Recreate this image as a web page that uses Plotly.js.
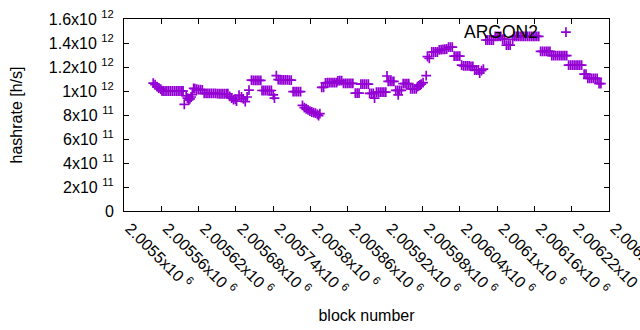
<!DOCTYPE html>
<html>
<head>
<meta charset="utf-8">
<script src="https://cdn.plot.ly/plotly-3.0.1.min.js"></script>
<style>html,body{margin:0;padding:0;background:#fff;}#chart{width:640px;height:330px;}</style>
</head>
<body>
<div id="chart"></div>
<script>
// block numbers (x) and hashrate values in h/s (y)
var blocks = [
2005547,2005550,2005553,2005556,2005559,2005561,2005563,2005566,2005569,2005572,2005575,2005578,2005581,2005584,2005587,2005590,2005593,2005595,
2005597,2005600,2005602,2005604,2005606,2005608,2005610,
2005612,2005614,2005617,2005620,2005623,2005626,
2005629,2005632,2005635,2005638,2005641,2005644,2005647,2005650,2005653,2005656,2005659,2005662,2005665,2005667,
2005670,2005673,2005676,2005679,2005681,2005685,2005689,2005692,2005695,2005698,2005701,
2005705,2005708,2005711,2005714,2005717,2005720,
2005722,2005725,2005728,2005731,2005734,2005737,
2005740,2005742,2005745,
2005748,2005751,2005754,2005757,2005760,2005763,2005766,2005769,
2005772,2005775,2005778,2005781,2005784,
2005787,2005790,2005793,2005796,2005799,2005802,2005805,2005808,2005811,2005813,2005815,
2005818,2005821,
2005824,2005827,2005830,2005833,2005836,2005839,2005842,
2005844,2005847,2005850,
2005853,2005856,2005859,2005862,2005865,2005868,
2005872,2005875,2005878,
2005881,2005884,2005887,2005890,2005893,
2005895,2005898,2005901,2005903,
2005906,2005909,2005912,2005915,2005918,2005921,
2005923,
2005925,2005928,2005931,2005934,
2005937,2005940,2005941,2005943,2005946,
2005949,2005952,2005955,2005958,
2005961,2005964,2005967,2005970,
2005972,2005974,2005976,2005978,2005981,
2005986,2005988,2005991,
2005995,2005998,2006001,2006004,
2006007,2006010,2006013,2006016,2006019,
2006022,2006025,2006028,
2006031,2006034,2006037,2006040,
2006043,2006046,2006049,2006052,2006055,2006058,2006061,
2006064,2006067,2006070,2006072,2006075,2006078,
2006082,2006085,2006088,2006091,2006094,
2006097,2006100,2006103,2006106,
2006109,2006112,
2006115,2006118,2006121,
2006125,
2006128,2006131,2006134,2006137,2006140,2006143,2006146,2006149,2006152,2006155,2006158,2006161,2006164,2006167,
2006170,2006173,2006176,2006179,2006182,2006185,
2006188,2006191,2006194,2006197,2006200,2006203,2006206,2006209,2006212,
2006215,2006218,2006221,2006224,2006227,2006230,2006233,2006236,
2006240,2006243,
2006246,2006249,2006252,2006255,2006258,2006261,
2006264,2006267
];
var hashrate = [
1.066e12,1.052e12,1.036e12,1.025e12,1.015e12,1.002e12,1.0e12,1.0e12,1.0e12,1.0e12,1.0e12,1.0e12,1.0e12,1.0e12,1.0e12,1.0e12,1.0e12,1.0e12,
0.889e12,0.96e12,0.94e12,0.925e12,0.935e12,0.95e12,0.97e12,
1.022e12,1.02e12,1.015e12,1.012e12,1.012e12,1.01e12,
0.98e12,0.98e12,0.98e12,0.98e12,0.98e12,0.98e12,0.98e12,0.978e12,0.977e12,0.977e12,0.977e12,0.977e12,0.977e12,0.977e12,
0.955e12,0.94e12,0.928e12,0.93e12,0.915e12,0.965e12,0.95e12,0.935e12,0.912e12,0.95e12,1.008e12,
1.09e12,1.088e12,1.088e12,1.088e12,1.088e12,1.088e12,
1.004e12,1.004e12,1.004e12,1.004e12,1.004e12,1.004e12,
0.967e12,0.94e12,1.128e12,
1.095e12,1.092e12,1.092e12,1.092e12,1.092e12,1.092e12,1.09e12,1.09e12,
0.994e12,0.994e12,0.994e12,0.994e12,0.994e12,
0.88e12,0.862e12,0.852e12,0.843e12,0.833e12,0.825e12,0.82e12,0.815e12,0.805e12,0.795e12,0.812e12,
1.03e12,1.03e12,
1.068e12,1.07e12,1.07e12,1.07e12,1.07e12,1.07e12,1.07e12,
1.085e12,1.087e12,1.087e12,
1.064e12,1.064e12,1.064e12,1.064e12,1.064e12,1.064e12,
0.983e12,0.983e12,0.983e12,
1.058e12,1.058e12,1.058e12,1.058e12,1.058e12,
0.98e12,0.98e12,0.98e12,0.94e12,
0.99e12,0.99e12,0.99e12,0.99e12,0.99e12,0.99e12,
1.125e12,
1.08e12,1.08e12,1.08e12,1.08e12,
1.006e12,1.006e12,0.967e12,1.006e12,1.006e12,
1.061e12,1.061e12,1.061e12,1.061e12,
1.017e12,1.017e12,1.017e12,1.017e12,
1.036e12,1.042e12,1.05e12,1.058e12,1.069e12,
1.128e12,1.286e12,1.272e12,
1.325e12,1.325e12,1.325e12,1.325e12,
1.343e12,1.345e12,1.347e12,1.348e12,1.35e12,
1.365e12,1.365e12,1.365e12,
1.29e12,1.29e12,1.29e12,1.29e12,
1.215e12,1.21e12,1.21e12,1.21e12,1.21e12,1.205e12,1.205e12,
1.175e12,1.175e12,1.175e12,1.15e12,1.17e12,1.183e12,
1.425e12,1.425e12,1.425e12,1.425e12,1.425e12,
1.455e12,1.455e12,1.455e12,1.455e12,
1.433e12,1.433e12,
1.383e12,1.383e12,1.383e12,
1.43e12,
1.455e12,1.455e12,1.455e12,1.455e12,1.455e12,1.455e12,1.455e12,1.455e12,1.455e12,1.455e12,1.455e12,1.455e12,1.455e12,1.455e12,
1.33e12,1.33e12,1.33e12,1.33e12,1.33e12,1.33e12,
1.294e12,1.294e12,1.294e12,1.294e12,1.294e12,1.294e12,1.294e12,1.294e12,1.294e12,
1.215e12,1.215e12,1.215e12,1.215e12,1.215e12,1.215e12,1.215e12,1.215e12,
1.14e12,1.14e12,
1.106e12,1.106e12,1.106e12,1.106e12,1.106e12,1.106e12,
1.062e12,1.062e12
];
var seriesName = 'ARGON2';

// axis ticks
var xTickVals = [2005500,2005560,2005620,2005680,2005740,2005800,2005860,2005920,2005980,2006040,2006100,2006160,2006220,2006280];
var xTickText = ['2.0055x10 <sup>6</sup>','2.00556x10 <sup>6</sup>','2.00562x10 <sup>6</sup>','2.00568x10 <sup>6</sup>','2.00574x10 <sup>6</sup>','2.0058x10 <sup>6</sup>','2.00586x10 <sup>6</sup>','2.00592x10 <sup>6</sup>','2.00598x10 <sup>6</sup>','2.00604x10 <sup>6</sup>','2.0061x10 <sup>6</sup>','2.00616x10 <sup>6</sup>','2.00622x10 <sup>6</sup>','2.00628x10 <sup>6</sup>'];
var yTickVals = [0,2e11,4e11,6e11,8e11,1e12,1.2e12,1.4e12,1.6e12];
var yTickText = ['0','2x10 <sup>11</sup>','4x10 <sup>11</sup>','6x10 <sup>11</sup>','8x10 <sup>11</sup>','1x10 <sup>12</sup>','1.2x10 <sup>12</sup>','1.4x10 <sup>12</sup>','1.6x10 <sup>12</sup>'];

var FONT = '"Liberation Sans", Arial, sans-serif';
var trace = {
  type: 'scatter', mode: 'markers', x: blocks, y: hashrate, name: ' ',
  marker: {symbol: 'cross-thin-open', size: 7, color: '#9400d3', line: {color: '#9400d3', width: 1.7}},
  showlegend: true, hoverinfo: 'x+y'
};
var axisCommon = {
  showline: true, linecolor: '#000', linewidth: 1, mirror: 'ticks',
  ticks: 'inside', ticklen: 5, tickwidth: 1, tickcolor: '#000',
  showgrid: false, zeroline: false, automargin: false,
  tickfont: {family: FONT, size: 16, color: '#000'}
};
var layout = {
  width: 640, height: 330,
  margin: {l: 124, r: 31, t: 19, b: 119, pad: 0},
  paper_bgcolor: '#fff', plot_bgcolor: '#fff',
  font: {family: FONT, size: 16, color: '#000'},
  showlegend: true,
  legend: {x: 0.870, y: 1.02, xanchor: 'left', yanchor: 'top', bgcolor: 'rgba(0,0,0,0)', borderwidth: 0, font: {family: FONT, size: 16}},
  xaxis: Object.assign({}, axisCommon, {
    range: [2005500, 2006280], tickmode: 'array', tickvals: xTickVals, ticktext: xTickText,
    tickangle: 45, ticklabelstandoff: 1, ticklabelshift: 6, ticklabeloverflow: 'allow',
    title: {text: 'block number', font: {family: FONT, size: 16, color: '#000'}, standoff: 12}
  }),
  yaxis: Object.assign({}, axisCommon, {
    range: [0, 1.6e12], tickmode: 'array', tickvals: yTickVals, ticktext: yTickText,
    ticklabelstandoff: 6,
    title: {text: 'hashrate [h/s]', font: {family: FONT, size: 16, color: '#000'}, standoff: 22}
  }),
  annotations: [{
    xref: 'paper', yref: 'paper', x: (540 - 124) / 485, y: 1 - (32 - 19) / 192,
    xanchor: 'right', yanchor: 'middle', showarrow: false, text: seriesName,
    font: {family: FONT, size: 17.5, color: '#000'}
  }]
};
Plotly.newPlot('chart', [trace], layout, {displayModeBar: false, staticPlot: true});
</script>
</body>
</html>
